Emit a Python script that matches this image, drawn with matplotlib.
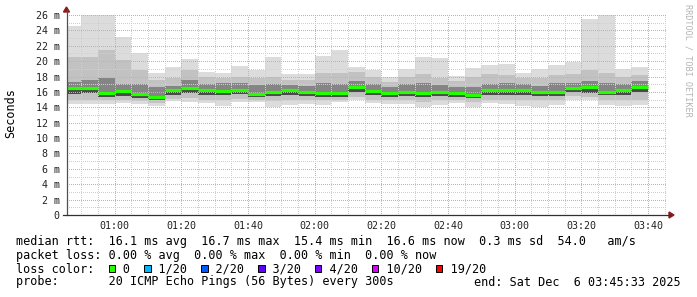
import numpy as np
import matplotlib
matplotlib.use("Agg")
import matplotlib.pyplot as plt
from matplotlib.patches import Polygon, Rectangle

# SmokePing style graph: 35 five-minute bins, values in ms
rtt_max = [24.6, 26.0, 26.0, 23.1, 21.0, 18.4, 19.3, 20.25, 18.6, 18.4,
           19.4, 18.9, 20.5, 18.3, 18.3, 20.7, 21.5, 19.2, 18.9, 18.0,
           18.95, 20.5, 20.4, 18.1, 19.1, 19.5, 19.6, 18.4, 18.95, 19.5,
           19.9, 25.5, 26.0, 18.95, 19.2]
rtt_hi2 = [20.6, 20.5, 21.5, 20.2, 18.9, 17.6, 17.8, 18.9, 18.0, 17.8,
           18.0, 17.8, 18.0, 17.6, 17.5, 18.5, 18.4, 18.6, 18.0, 17.3,
           18.0, 18.3, 17.8, 17.4, 18.0, 18.3, 18.2, 17.8, 17.8, 18.2,
           18.3, 18.8, 18.4, 17.9, 18.2]
rtt_hi1 = [17.3, 17.6, 17.8, 17.0, 17.0, 16.6, 16.8, 17.6, 17.0, 17.1,
           17.2, 16.9, 17.0, 16.9, 16.8, 17.2, 17.0, 17.4, 17.0, 16.6,
           17.0, 17.1, 16.9, 16.7, 16.7, 17.0, 17.1, 17.0, 16.8, 17.2,
           17.2, 17.4, 17.1, 17.0, 17.4]
rtt_med = [16.5, 16.5, 15.9, 16.1, 15.7, 15.35, 16.2, 16.5, 16.2, 16.1,
           16.3, 15.75, 16.05, 16.25, 16.05, 15.85, 15.85, 16.65, 16.15, 15.85,
           16.05, 15.85, 16.0, 15.85, 15.6, 16.2, 16.2, 16.2, 16.05, 16.05,
           16.45, 16.65, 16.05, 16.2, 16.6]
rtt_lo1 = [15.7, 15.8, 15.4, 15.5, 15.2, 15.0, 15.6, 15.8, 15.6, 15.6,
           15.7, 15.3, 15.5, 15.6, 15.5, 15.4, 15.4, 16.0, 15.6, 15.4,
           15.5, 15.3, 15.5, 15.4, 15.2, 15.6, 15.6, 15.6, 15.5, 15.5,
           16.0, 15.9, 15.6, 15.6, 16.0]
rtt_lo2 = [15.0, 15.0, 14.9, 15.0, 14.8, 14.6, 15.1, 15.2, 15.0, 15.0,
           15.1, 15.0, 14.8, 15.0, 15.0, 14.9, 15.0, 15.3, 15.0, 14.9,
           15.0, 14.7, 14.9, 14.9, 14.7, 15.0, 15.0, 15.0, 14.9, 15.0,
           15.5, 15.3, 15.0, 15.0, 15.0]
rtt_min = [14.4, 14.4, 14.4, 14.6, 14.4, 14.2, 14.8, 14.7, 14.5, 14.2,
           14.75, 14.75, 14.1, 14.3, 14.45, 14.3, 14.75, 14.9, 14.5, 14.45,
           14.4, 14.1, 14.3, 14.5, 14.1, 14.5, 14.45, 14.2, 14.0, 14.3,
           14.9, 14.95, 14.3, 14.2, 14.3]

x_ticks = [60, 80, 100, 120, 140, 160, 180, 200, 220]
x_labels = ["01:00", "01:20", "01:40", "02:00", "02:20", "02:40", "03:00", "03:20", "03:40"]
y_ticks = [0, 2, 4, 6, 8, 10, 12, 14, 16, 18, 20, 22, 24, 26]
y_labels = ["0", "2 m", "4 m", "6 m", "8 m", "10 m", "12 m", "14 m", "16 m",
            "18 m", "20 m", "22 m", "24 m", "26 m"]

loss_labels = ["0", "1/20", "2/20", "3/20", "4/20", "10/20", "19/20"]
loss_colors = ["#26ff00", "#00b8ff", "#0059ff", "#5e00ff", "#7e00ff", "#dd00ff", "#ff0000"]

t_start = 45 + 33 / 60.0   # 00:45:33, minutes after midnight
t_end = t_start + 180
bin_start = 45 + 5 * np.arange(len(rtt_med))

W, H = 697, 297
MONO = "DejaVu Sans Mono"
plt.rcParams["font.family"] = MONO


def fx(x):
    return x / W


def fy(y):
    return 1 - y / H


fig = plt.figure(figsize=(W / 100, H / 100), dpi=100)
ax = fig.add_axes([fx(66.5), fy(215), 600 / W, 200 / H])

mx = np.array(rtt_max)
mn = np.array(rtt_min)
h2 = np.array(rtt_hi2)
l2 = np.array(rtt_lo2)
h1 = np.array(rtt_hi1)
l1 = np.array(rtt_lo1)
md = np.array(rtt_med)

# smoke layers, outer light -> inner dark
ax.bar(bin_start, mx - mn, bottom=mn, width=5, align="edge", color="#dcdcdc", lw=0, zorder=1)
ax.bar(bin_start, h2 - l2, bottom=l2, width=5, align="edge", color="#c2c2c2", lw=0, zorder=1)
ax.bar(bin_start, h1 - md, bottom=md, width=5, align="edge", color="#858585", lw=0, zorder=1)
ax.bar(bin_start, md - l1, bottom=l1, width=5, align="edge", color="#4a4a4a", lw=0, zorder=1)
ax.hlines(md, bin_start, bin_start + 5, color=loss_colors[0], lw=2.3,
          capstyle="butt", zorder=3)

ax.set_xlim(t_start, t_end)
ax.set_ylim(0, 26)
ax.set_xticks(x_ticks)
ax.set_xticklabels(x_labels)
ax.set_xticks(np.arange(50, 226, 5), minor=True)
ax.set_yticks(y_ticks)
ax.set_yticklabels(y_labels)
ax.set_yticks(np.arange(1, 26, 2), minor=True)
ax.tick_params(which="both", labelsize=7.2, length=0, pad=5, colors="#222222")
ax.tick_params(axis="x", pad=4.5)
ax.set_axisbelow(False)
ax.grid(which="minor", color="#cfcfcf", lw=0.72, linestyle=(0, (1, 2)), antialiased=False)
ax.grid(which="major", color="#eaa0a0", lw=0.72, linestyle=(0, (1, 2)), antialiased=False)
for s in ax.spines.values():
    s.set_visible(False)

# axes with arrows (drawn in pixel space)
fig.add_artist(plt.Line2D([fx(66.5), fx(66.5)], [fy(215), fy(10)], color="#505050", lw=0.9))
fig.add_artist(plt.Line2D([fx(63), fx(670)], [fy(215), fy(215)], color="#303030", lw=0.9))
fig.add_artist(Polygon([(fx(63.5), fy(12)), (fx(69.5), fy(12)), (fx(66.5), fy(7))],
                       closed=True, color="#8b1a1a", transform=fig.transFigure))
fig.add_artist(Polygon([(fx(669), fy(212)), (fx(669), fy(218)), (fx(674), fy(215))],
                       closed=True, color="#8b1a1a", transform=fig.transFigure))

fig.text(fx(11), fy(113), "Seconds", rotation=90, ha="center", va="center", fontsize=8.5)
fig.text(fx(688), fy(60), "RRDTOOL / TOBI OETIKER", rotation=270, ha="center", va="center",
         fontsize=6.1, color="#b4b4b4")

# legend block
fs = 8.5
cw = 0.602 * fs * 100 / 72
x0 = 16
lines = [
    "median rtt:  16.1 ms avg  16.7 ms max  15.4 ms min  16.6 ms now  0.3 ms sd  54.0   am/s",
    "packet loss: 0.00 % avg  0.00 % max  0.00 % min  0.00 % now",
]
fig.text(fx(x0), fy(241), lines[0], ha="left", va="center", fontsize=fs)
fig.text(fx(x0), fy(255), lines[1], ha="left", va="center", fontsize=fs)

row = "loss color:  "
box_cols = []
for lab in loss_labels:
    box_cols.append(len(row))
    row += "  " + lab + "  "
fig.text(fx(x0), fy(268.5), row.rstrip(), ha="left", va="center", fontsize=fs)
for col, c in zip(box_cols, loss_colors):
    bx = x0 + col * cw + 0.5
    fig.add_artist(Rectangle((fx(bx), fy(272)), 6.5 / W, 7 / H, facecolor=c,
                             edgecolor="black", lw=0.7, transform=fig.transFigure))

fig.text(fx(x0), fy(282), "probe:       20 ICMP Echo Pings (56 Bytes) every 300s",
         ha="left", va="center", fontsize=fs)
fig.text(fx(681), fy(282), "end: Sat Dec  6 03:45:33 2025", ha="right", va="center", fontsize=fs)

fig.savefig("out.png", dpi=100, facecolor="white")
